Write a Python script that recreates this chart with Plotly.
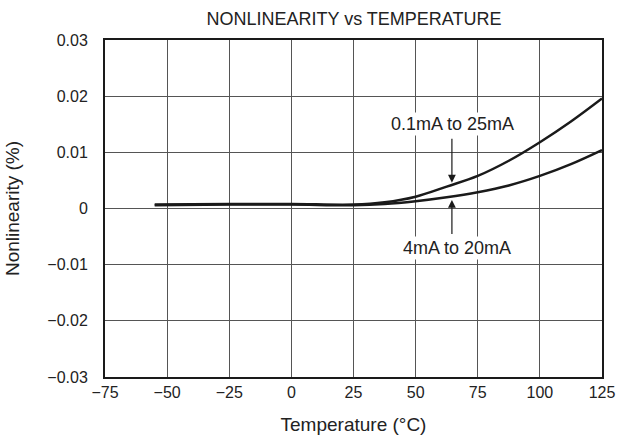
import plotly.graph_objects as go

temps = [-55, -25, 0, 25, 37.5, 50, 62.5, 75, 87.5, 100, 112.5, 125]
nl_01_25 = [0.0007, 0.0008, 0.0008, 0.0007, 0.0011, 0.0021, 0.0039, 0.0058, 0.0085, 0.0118, 0.0155, 0.0196]
nl_4_20 = [0.0006, 0.0007, 0.0007, 0.0006, 0.0008, 0.0013, 0.0020, 0.0029, 0.0041, 0.0058, 0.0079, 0.0104]

x_ticks = [-75, -50, -25, 0, 25, 50, 75, 100, 125]
x_ticktext = ["\u221275", "\u221250", "\u221225", "0", "25", "50", "75", "100", "125"]
y_ticks = [-0.03, -0.02, -0.01, 0, 0.01, 0.02, 0.03]
y_ticktext = ["\u22120.03", "\u22120.02", "\u22120.01", "0", "0.01", "0.02", "0.03"]

label_upper = "0.1mA to 25mA"
label_lower = "4mA to 20mA"

font_family = "Liberation Sans, Arial, sans-serif"

fig = go.Figure()
for vals in (nl_01_25, nl_4_20):
    fig.add_trace(go.Scatter(x=temps, y=vals, mode="lines",
                             line=dict(color="#1a1a1a", width=2.5, shape="spline"),
                             showlegend=False, hoverinfo="skip"))

# arrows
fig.add_annotation(x=64.6, y=0.0046, ax=64.6, ay=0.0127, xref="x", yref="y",
                   axref="x", ayref="y", text="", showarrow=True,
                   arrowhead=2, arrowsize=1.3, arrowwidth=1.2, arrowcolor="#1a1a1a")
fig.add_annotation(x=64.6, y=0.0015, ax=64.6, ay=-0.0048, xref="x", yref="y",
                   axref="x", ayref="y", text="", showarrow=True,
                   arrowhead=2, arrowsize=1.3, arrowwidth=1.2, arrowcolor="#1a1a1a")
# labels
fig.add_annotation(x=65, y=0.0151, xref="x", yref="y", text=label_upper, showarrow=False,
                   bgcolor="white", font=dict(size=18, color="#222", family=font_family))
fig.add_annotation(x=66.5, y=-0.0071, xref="x", yref="y", text=label_lower, showarrow=False,
                   bgcolor="white", font=dict(size=18, color="#222", family=font_family))

fig.update_layout(
    width=620, height=445,
    margin=dict(l=105, r=18, t=40, b=68, autoexpand=False),
    paper_bgcolor="white", plot_bgcolor="white",
    font=dict(family=font_family, size=16, color="#222"),
    title=dict(text="NONLINEARITY vs TEMPERATURE", x=0.571, xanchor="center",
               y=0.958, yanchor="middle", font=dict(size=18, color="#222")),
)
fig.update_xaxes(range=[-75, 125], tickvals=x_ticks, ticktext=x_ticktext, automargin=False,
                 showgrid=True, gridcolor="#555", gridwidth=1,
                 showline=True, linecolor="#1a1a1a", linewidth=2, mirror=True,
                 zeroline=False, ticks="", title=dict(text="Temperature (\u00b0C)", standoff=17))
fig.update_yaxes(range=[-0.03, 0.03], tickvals=y_ticks, ticktext=y_ticktext, automargin=False,
                 showgrid=True, gridcolor="#555", gridwidth=1,
                 showline=True, linecolor="#1a1a1a", linewidth=2, mirror=True,
                 zeroline=False, ticks="", ticklabelstandoff=12,
                 title=dict(text="Nonlinearity (%)", standoff=23))

fig.write_html("out.html", config={"displayModeBar": False},
               post_script="document.body.style.margin='0';")
